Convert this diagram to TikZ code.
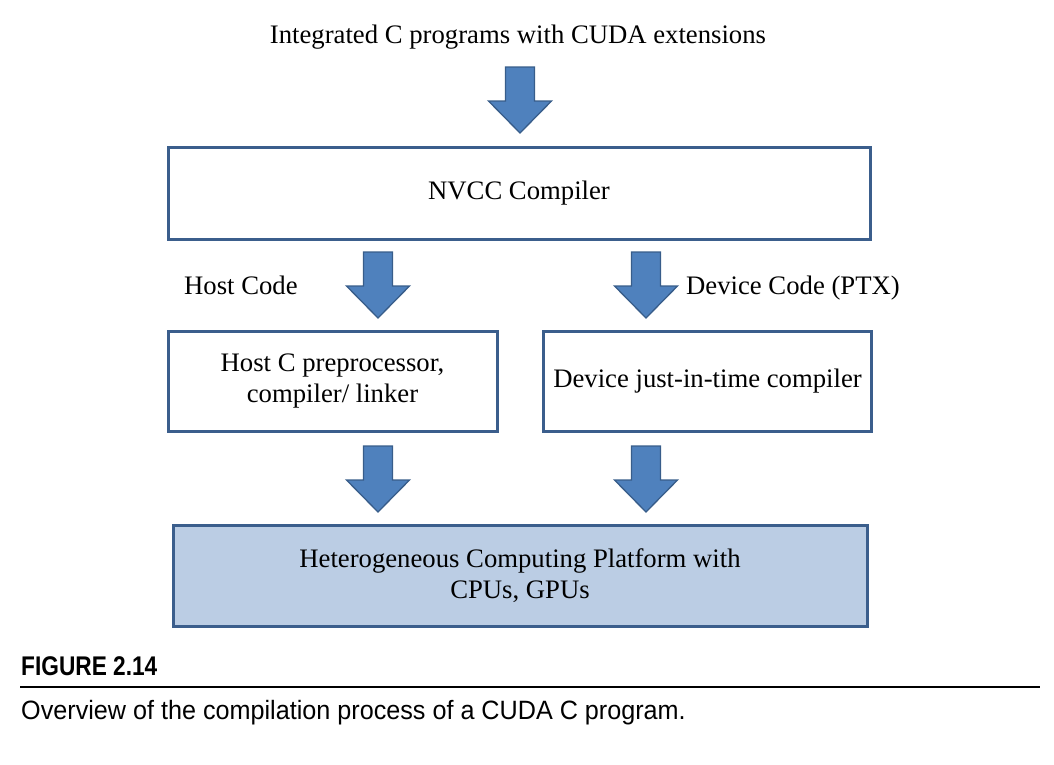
\documentclass[tikz,border=0pt]{standalone}
\usepackage{fontspec}
\setmainfont{Liberation Serif}
\newfontfamily\capfont[FakeStretch=0.95]{Liberation Sans}
\newfontfamily\figfont[FakeStretch=0.84]{Liberation Sans}
\usetikzlibrary{calc}
\definecolor{arrowblue}{HTML}{4F81BD}
\definecolor{arrowdark}{HTML}{385D8A}
\definecolor{boxline}{HTML}{3B5E8C}
\definecolor{platfill}{HTML}{BBCDE4}
\tikzset{
  lbl/.style={inner sep=0pt, font=\fontsize{26.7}{31}\selectfont},
  stagebox/.style={draw=boxline, line width=3pt, fill=white, align=center, inner sep=0pt,
    font=\fontsize{26.7}{31}\selectfont},
  platbox/.style={stagebox, fill=platfill},
  barrow/.style={fill=arrowblue, draw=arrowdark, line width=1.3pt, line join=miter},
}
\newcommand\fatarrow[2]{%
  \draw[barrow] let \p1=(#1), \p2=(#2) in
    (\x1-14.5pt,\y1) -- (\x1+14.5pt,\y1) -- (\x1+14.5pt,\y2+32pt) -- (\x1+31.5pt,\y2+32pt)
    -- (\x2,\y2) -- (\x1-31.5pt,\y2+32pt) -- (\x1-14.5pt,\y2+32pt) -- cycle;}
\begin{document}
\begin{tikzpicture}[x=1pt,y=-1pt]
\useasboundingbox (0,0) rectangle (1054,764);
\node[lbl, anchor=base] (src) at (518,43) {Integrated C programs with CUDA extensions};
\node[stagebox, minimum width=702, minimum height=92] (nvcc) at (519,193) {NVCC Compiler};
\node[stagebox, minimum width=329, minimum height=100] (host) at (332.5,381) {Host C preprocessor,\\compiler/ linker};
\node[stagebox, minimum width=328, minimum height=100] (dev) at (707.5,381) {Device just-in-time compiler};
\node[platbox, minimum width=694, minimum height=101] (plat) at (520,575.5) {Heterogeneous Computing Platform with\\CPUs, GPUs};
\node[lbl, anchor=base west] (hostlbl) at (184,294) {Host Code};
\node[lbl, anchor=base west] (devlbl) at (686,294) {Device Code (PTX)};
% arrow endpoints
\coordinate (a1s) at (520,67);  \coordinate (a1e) at (520,133);
\coordinate (a2s) at (378,252); \coordinate (a2e) at (378,318);
\coordinate (a3s) at (646,252); \coordinate (a3e) at (646,318);
\coordinate (a4s) at (378,446); \coordinate (a4e) at (378,512);
\coordinate (a5s) at (646,446); \coordinate (a5e) at (646,512);
\fatarrow{a1s}{a1e}
\fatarrow{a2s}{a2e}
\fatarrow{a3s}{a3e}
\fatarrow{a4s}{a4e}
\fatarrow{a5s}{a5e}
% caption
\node[anchor=base west, inner sep=0pt, font=\figfont\bfseries\fontsize{27}{30}\selectfont] (fig) at (21,675) {FIGURE 2.14};
\coordinate (rl) at (20,687); \coordinate (rr) at (1040,687);
\draw[line width=2.6pt] (rl) -- (rr);
\node[anchor=base west, inner sep=0pt, font=\capfont\fontsize{26.5}{30}\selectfont] (cap) at (21,719) {Overview of the compilation process of a CUDA C program.};
\end{tikzpicture}
\end{document}
